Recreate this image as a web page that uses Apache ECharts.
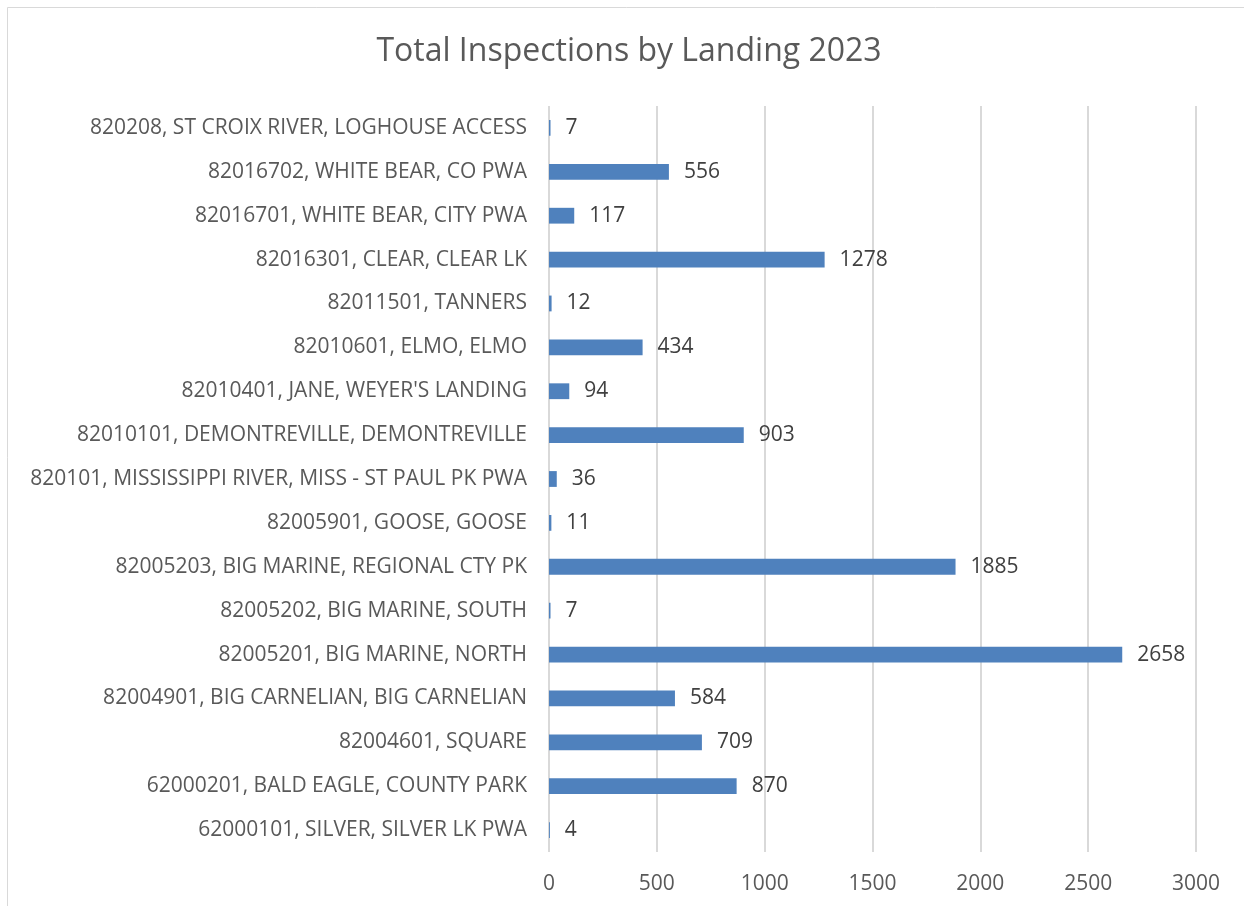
<!DOCTYPE html>
<html>
<head>
<meta charset="utf-8">
<script src="https://cdn.jsdelivr.net/npm/echarts@6/dist/echarts.min.js"></script>
<style>
  html, body { margin: 0; padding: 0; background: #fff; }
  #chart { width: 1244px; height: 906px; }
</style>
</head>
<body>
<div id="chart"></div>
<script>
// landings, listed bottom to top as drawn
const landings = [
  '62000101, SILVER, SILVER LK PWA',
  '62000201, BALD EAGLE, COUNTY PARK',
  '82004601, SQUARE',
  '82004901, BIG CARNELIAN, BIG CARNELIAN',
  '82005201, BIG MARINE, NORTH',
  '82005202, BIG MARINE, SOUTH',
  '82005203, BIG MARINE, REGIONAL CTY PK',
  '82005901, GOOSE, GOOSE',
  '820101, MISSISSIPPI RIVER, MISS - ST PAUL PK PWA',
  '82010101, DEMONTREVILLE, DEMONTREVILLE',
  "82010401, JANE, WEYER'S LANDING",
  '82010601, ELMO, ELMO',
  '82011501, TANNERS',
  '82016301, CLEAR, CLEAR LK',
  '82016701, WHITE BEAR, CITY PWA',
  '82016702, WHITE BEAR, CO PWA',
  '820208, ST CROIX RIVER, LOGHOUSE ACCESS'
]
const inspections = [4, 870, 709, 584, 2658, 7, 1885, 11, 36, 903, 94, 434, 12, 1278, 117, 556, 7]
const xTicks = [0, 500, 1000, 1500, 2000, 2500, 3000]

const font = "'Open Sans', 'Liberation Sans', sans-serif"
const chart = echarts.init(document.getElementById('chart'))

const option = {
  animation: false,
  backgroundColor: '#fff',
  title: {
    text: 'Total Inspections by Landing 2023',
    left: 624,
    top: 31,
    textAlign: 'center',
    textStyle: { fontFamily: font, fontSize: 32, fontWeight: 'normal', color: '#595959' }
  },
  graphic: [
    {
      type: 'rect',
      shape: { x: 7.5, y: 7.5, width: 1300, height: 1000 },
      style: { fill: 'none', stroke: '#d9d9d9', lineWidth: 1 },
      silent: true
    }
  ],
  grid: { left: 549, right: 48, top: 106, bottom: 54, containLabel: false },
  xAxis: {
    type: 'value',
    min: xTicks[0],
    max: xTicks[xTicks.length - 1],
    interval: 500,
    axisLine: { show: false },
    axisTick: { show: false },
    splitLine: { lineStyle: { color: '#d9d9d9', width: 2 } },
    axisLabel: {
      fontFamily: font,
      fontSize: 21,
      color: '#595959',
      margin: 22,
      formatter: (v) => String(v)
    }
  },
  yAxis: {
    type: 'category',
    data: landings,
    axisLine: { show: false },
    axisTick: { show: false },
    axisLabel: { fontFamily: font, fontSize: 21, color: '#595959', margin: 22 }
  },
  series: [
    {
      type: 'bar',
      data: inspections,
      barWidth: '36%',
      itemStyle: { color: '#4f81bd' },
      label: {
        show: true,
        position: 'right',
        distance: 15,
        fontFamily: font,
        fontSize: 21,
        color: '#404040'
      }
    }
  ]
}

chart.setOption(option)
</script>
</body>
</html>
